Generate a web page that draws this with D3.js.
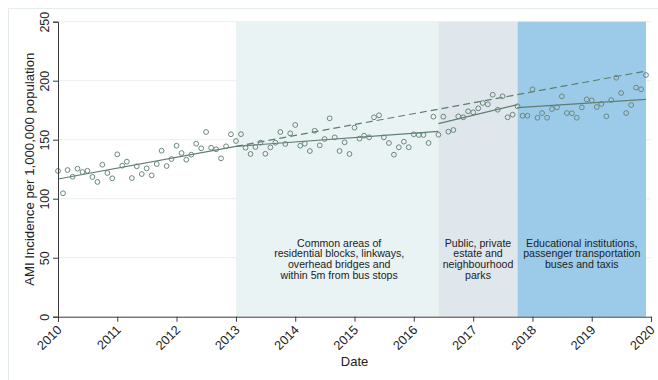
<!DOCTYPE html>
<html>
<head>
<meta charset="utf-8">
<script src="https://cdn.jsdelivr.net/npm/d3@7"></script>
<style>
  html, body { margin: 0; padding: 0; background: #ffffff; }
  svg { display: block; font-family: "Liberation Sans", Arial, sans-serif; }
</style>
</head>
<body>
<svg id="chart" width="658" height="380"></svg>
<script>
// Monthly AMI incidence per 1,000,000 population, Jan 2010 – Dec 2019
const startYear = 2010;
const incidence = [
  123.5, 104.6, 124.3, 118.6, 125.4, 122.6, 123.7, 118.4, 114.2, 128.8, 121.8, 117.3,
  137.6, 128.0, 131.4, 117.5, 127.5, 120.9, 125.7, 119.8, 129.4, 140.7, 127.7, 133.6,
  144.9, 138.7, 133.0, 137.3, 146.6, 142.7, 156.5, 143.2, 141.9, 134.2, 144.4, 154.6,
  148.9, 154.7, 143.2, 137.9, 143.8, 147.5, 138.1, 143.5, 147.5, 156.5, 146.4, 155.4,
  162.5, 144.9, 146.6, 140.4, 157.6, 145.2, 150.6, 168.1, 152.0, 140.4, 147.8, 137.9,
  160.2, 150.9, 153.4, 152.0, 169.0, 170.7, 152.0, 147.2, 137.3, 143.6, 148.3, 143.6,
  154.6, 154.0, 154.0, 147.2, 169.5, 154.2, 169.5, 156.8, 158.2, 169.8, 169.0, 174.1,
  173.2, 176.6, 181.1, 180.0, 188.1, 175.4, 186.8, 169.0, 171.2, 178.3, 170.3, 170.3,
  192.7, 168.6, 172.6, 168.6, 176.0, 177.4, 186.8, 172.6, 172.4, 168.6, 177.4, 184.2,
  183.4, 177.7, 180.3, 169.8, 183.6, 202.5, 189.6, 172.6, 179.4, 194.1, 192.7, 204.8
];

// Smoke-free zone phases (month index from Jan 2010)
const phaseStart = [36, 77, 93];
const phaseEnd = [77, 93, 119];
const phaseLabels = [
  ["Common areas of", "residential blocks, linkways,", "overhead bridges and", "within 5m from bus stops"],
  ["Public, private", "estate and", "neighbourhood", "parks"],
  ["Educational institutions,", "passenger transportation", "buses and taxis"]
];

// Fitted segmented trend (month index, value)
const trendStartMonth = [0, 36, 77, 93];
const trendEndMonth = [36, 77, 93, 119];
const trendStartValue = [116.7, 144.4, 163.6, 177.1];
const trendEndValue = [144.4, 157.0, 179.7, 184.2];

// Counterfactual: pre-2013 trend extended
const counterMonths = [36, 119];
const counterValues = [144.4, 208.2];

const xTickYears = [2010, 2011, 2012, 2013, 2014, 2015, 2016, 2017, 2018, 2019, 2020];
const yTicks = [0, 50, 100, 150, 200, 250];

// ---- styling ----
const markColor = "#6a877c";
const lineColor = "#5f7d71";
const phaseFill = ["#eaf3f3", "#dfe7ec", "#9ccbea"];
const gridColor = "#e8eff2";
const axisColor = "#3a3a3a";

const monthDate = m => new Date(startYear, m, 1);

const svg = d3.select("#chart");

// outer graph frame
svg.append("path")
  .attr("d", "M8.5,380 V8.5 H658")
  .attr("fill", "none")
  .attr("stroke", "#e3ebef")
  .attr("stroke-width", 1);

const x = d3.scaleTime()
  .domain([new Date(2010, 0, 1), new Date(2020, 0, 1)])
  .range([58, 651]);
const y = d3.scaleLinear()
  .domain([0, 250])
  .range([316.7, 21.7]);

// gridlines
svg.append("g")
  .selectAll("line")
  .data(yTicks.filter(v => v > 0))
  .join("line")
  .attr("x1", x.range()[0]).attr("x2", x.range()[1])
  .attr("y1", d => y(d)).attr("y2", d => y(d))
  .attr("stroke", gridColor)
  .attr("stroke-width", 1);

// phase shading
svg.append("g")
  .selectAll("rect")
  .data(phaseStart)
  .join("rect")
  .attr("x", (d, i) => x(monthDate(d)))
  .attr("width", (d, i) => x(monthDate(phaseEnd[i])) - x(monthDate(d)))
  .attr("y", y(250))
  .attr("height", y(0) - y(250))
  .attr("fill", (d, i) => phaseFill[i]);

// phase labels
const labelG = svg.append("g")
  .attr("font-size", "10.6px")
  .attr("fill", "#222")
  .attr("text-anchor", "middle");
phaseLabels.forEach((lines, i) => {
  const cx = (x(monthDate(phaseStart[i])) + x(monthDate(phaseEnd[i]))) / 2 + (i === 0 ? 2 : 0);
  lines.forEach((t, j) => {
    labelG.append("text")
      .attr("x", cx)
      .attr("y", 246.5 + j * 10.7)
      .text(t);
  });
});

// counterfactual dashed line
svg.append("line")
  .attr("x1", x(monthDate(counterMonths[0])))
  .attr("y1", y(counterValues[0]))
  .attr("x2", x(monthDate(counterMonths[1])))
  .attr("y2", y(counterValues[1]))
  .attr("stroke", lineColor)
  .attr("stroke-width", 1.2)
  .attr("stroke-dasharray", "7,4");

// fitted trend segments
svg.append("g")
  .selectAll("line")
  .data(trendStartMonth)
  .join("line")
  .attr("x1", d => x(monthDate(d)))
  .attr("y1", (d, i) => y(trendStartValue[i]))
  .attr("x2", (d, i) => x(monthDate(trendEndMonth[i])))
  .attr("y2", (d, i) => y(trendEndValue[i]))
  .attr("stroke", lineColor)
  .attr("stroke-width", 1.2);

// observed monthly points
svg.append("g")
  .selectAll("circle")
  .data(incidence)
  .join("circle")
  .attr("cx", (d, i) => x(monthDate(i)))
  .attr("cy", d => y(d))
  .attr("r", 2.4)
  .attr("fill", "none")
  .attr("stroke", markColor)
  .attr("stroke-width", 1);

// y axis
const yAxis = svg.append("g")
  .attr("transform", `translate(${x.range()[0]},0)`)
  .call(d3.axisLeft(y).tickValues(yTicks).tickSize(5).tickPadding(4));
yAxis.select(".domain").attr("stroke", axisColor);
yAxis.selectAll(".tick line").attr("stroke", axisColor);
yAxis.selectAll(".tick text")
  .attr("font-size", "12.5px")
  .attr("font-family", "Liberation Sans, Arial, sans-serif")
  .attr("fill", "#222")
  .attr("text-anchor", "middle")
  .attr("x", null).attr("dy", null)
  .attr("transform", "translate(-9,0) rotate(-90)");

// x axis
const xAxis = svg.append("g")
  .attr("transform", `translate(0,${y(0)})`)
  .call(d3.axisBottom(x)
    .tickValues(xTickYears.map(yr => new Date(yr, 0, 1)))
    .tickFormat(d3.timeFormat("%Y"))
    .tickSize(5));
xAxis.select(".domain").attr("stroke", axisColor);
xAxis.selectAll(".tick line").attr("stroke", axisColor);
xAxis.selectAll(".tick text")
  .attr("font-size", "12.8px")
  .attr("font-family", "Liberation Sans, Arial, sans-serif")
  .attr("fill", "#222")
  .attr("text-anchor", "end")
  .attr("y", null).attr("dy", null)
  .attr("transform", "translate(4,14) rotate(-45)");

// axis titles
svg.append("text")
  .attr("transform", `translate(34,${(y(0) + y(250)) / 2}) rotate(-90)`)
  .attr("text-anchor", "middle")
  .attr("font-size", "13.2px")
  .attr("fill", "#222")
  .text("AMI Incidence per 1,000,000 population");

svg.append("text")
  .attr("x", (x.range()[0] + x.range()[1]) / 2)
  .attr("y", 366)
  .attr("text-anchor", "middle")
  .attr("font-size", "13px")
  .attr("fill", "#222")
  .text("Date");
</script>
</body>
</html>
